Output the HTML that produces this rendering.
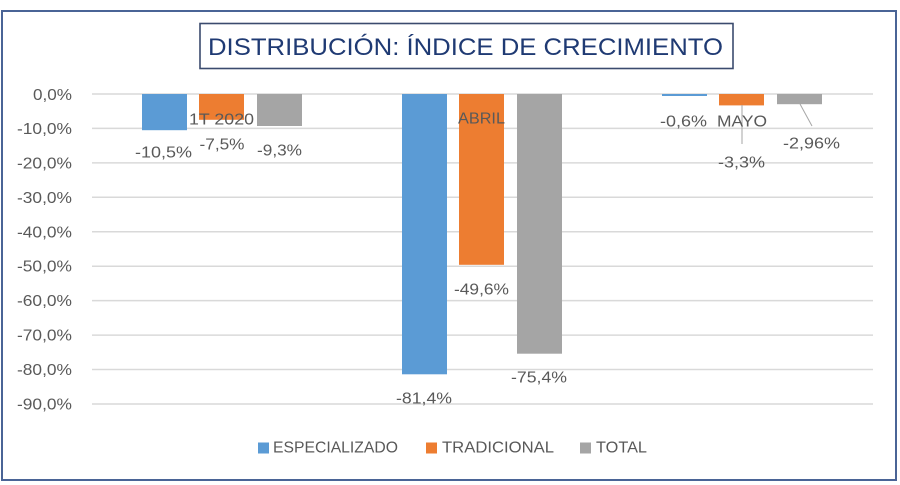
<!DOCTYPE html>
<html>
<head>
<meta charset="utf-8">
<style>
  html, body { margin: 0; padding: 0; background: #ffffff; }
  svg { display: block; }
  text { font-family: "Liberation Sans", "DejaVu Sans", sans-serif; }
</style>
</head>
<body>
<svg width="900" height="485" viewBox="0 0 900 485" xmlns="http://www.w3.org/2000/svg">
  <rect x="0" y="0" width="900" height="485" fill="#ffffff"/>
  <!-- outer border -->
  <rect x="2" y="11" width="894" height="469" fill="none" stroke="#4a6496" stroke-width="2"/>

  <!-- title box -->
  <rect x="200" y="23.5" width="533" height="45" fill="#ffffff" stroke="#3b4b6e" stroke-width="1.6"/>
  <text x="208" y="55" font-size="24" fill="#1f3a73" textLength="515" lengthAdjust="spacingAndGlyphs">DISTRIBUCIÓN: ÍNDICE DE CRECIMIENTO</text>

  <!-- gridlines -->
  <g stroke="#d9d9d9" stroke-width="1.5">
    <line x1="92" y1="94" x2="873" y2="94"/>
    <line x1="92" y1="128.4" x2="873" y2="128.4"/>
    <line x1="92" y1="162.9" x2="873" y2="162.9"/>
    <line x1="92" y1="197.3" x2="873" y2="197.3"/>
    <line x1="92" y1="231.8" x2="873" y2="231.8"/>
    <line x1="92" y1="266.2" x2="873" y2="266.2"/>
    <line x1="92" y1="300.6" x2="873" y2="300.6"/>
    <line x1="92" y1="335.1" x2="873" y2="335.1"/>
    <line x1="92" y1="369.5" x2="873" y2="369.5"/>
    <line x1="92" y1="404" x2="873" y2="404"/>
  </g>

  <!-- y labels -->
  <g font-size="15.5" fill="#595959" text-anchor="end">
    <text x="72" y="100" textLength="39" lengthAdjust="spacingAndGlyphs">0,0%</text>
    <text x="72" y="134" textLength="55" lengthAdjust="spacingAndGlyphs">-10,0%</text>
    <text x="72" y="168.5" textLength="55" lengthAdjust="spacingAndGlyphs">-20,0%</text>
    <text x="72" y="203" textLength="55" lengthAdjust="spacingAndGlyphs">-30,0%</text>
    <text x="72" y="237.3" textLength="55" lengthAdjust="spacingAndGlyphs">-40,0%</text>
    <text x="72" y="271.7" textLength="55" lengthAdjust="spacingAndGlyphs">-50,0%</text>
    <text x="72" y="306.2" textLength="55" lengthAdjust="spacingAndGlyphs">-60,0%</text>
    <text x="72" y="340.6" textLength="55" lengthAdjust="spacingAndGlyphs">-70,0%</text>
    <text x="72" y="375" textLength="55" lengthAdjust="spacingAndGlyphs">-80,0%</text>
    <text x="72" y="409.5" textLength="55" lengthAdjust="spacingAndGlyphs">-90,0%</text>
  </g>

  <!-- bars group 1 -->
  <rect x="142" y="94" width="45" height="36.2" fill="#5b9bd5"/>
  <rect x="199" y="94" width="45" height="25.8" fill="#ed7d31"/>
  <rect x="257" y="94" width="45" height="32" fill="#a5a5a5"/>
  <!-- group 2 -->
  <rect x="402" y="94" width="45" height="280.3" fill="#5b9bd5"/>
  <rect x="459" y="94" width="45" height="170.8" fill="#ed7d31"/>
  <rect x="517" y="94" width="45" height="259.7" fill="#a5a5a5"/>
  <!-- group 3 -->
  <rect x="662" y="94" width="45" height="2" fill="#5b9bd5"/>
  <rect x="719" y="94" width="45" height="11.4" fill="#ed7d31"/>
  <rect x="777" y="94" width="45" height="10.2" fill="#a5a5a5"/>

  <!-- leader lines -->
  <g stroke="#a6a6a6" stroke-width="1">
    <line x1="742" y1="105" x2="742" y2="144"/>
    <line x1="800" y1="104" x2="812" y2="126"/>
  </g>

  <!-- category labels -->
  <g font-size="16" fill="#595959" text-anchor="middle">
    <text x="221.5" y="124.5" textLength="65" lengthAdjust="spacingAndGlyphs">1T 2020</text>
    <text x="481.5" y="123.5" textLength="47" lengthAdjust="spacingAndGlyphs">ABRIL</text>
    <text x="742" y="126.5" textLength="50" lengthAdjust="spacingAndGlyphs">MAYO</text>
  </g>

  <!-- data labels -->
  <g font-size="16" fill="#595959" text-anchor="middle">
    <text x="163.5" y="157.5" textLength="57" lengthAdjust="spacingAndGlyphs">-10,5%</text>
    <text x="222" y="149.5" textLength="45" lengthAdjust="spacingAndGlyphs">-7,5%</text>
    <text x="279.5" y="155.5" textLength="45" lengthAdjust="spacingAndGlyphs">-9,3%</text>
    <text x="424" y="403.5" textLength="56" lengthAdjust="spacingAndGlyphs">-81,4%</text>
    <text x="481.5" y="294.5" textLength="55" lengthAdjust="spacingAndGlyphs">-49,6%</text>
    <text x="539" y="382.5" textLength="56" lengthAdjust="spacingAndGlyphs">-75,4%</text>
    <text x="683.5" y="126.5" textLength="47" lengthAdjust="spacingAndGlyphs">-0,6%</text>
    <text x="741.5" y="167.5" textLength="47" lengthAdjust="spacingAndGlyphs">-3,3%</text>
    <text x="811.5" y="148.5" textLength="57" lengthAdjust="spacingAndGlyphs">-2,96%</text>
  </g>

  <!-- legend -->
  <rect x="258" y="442.5" width="11" height="11" fill="#5b9bd5"/>
  <rect x="426" y="442.5" width="11" height="11" fill="#ed7d31"/>
  <rect x="580" y="442.5" width="11" height="11" fill="#a5a5a5"/>
  <g font-size="16" fill="#595959">
    <text x="273" y="452.5" textLength="125" lengthAdjust="spacingAndGlyphs">ESPECIALIZADO</text>
    <text x="442" y="452.5" textLength="112" lengthAdjust="spacingAndGlyphs">TRADICIONAL</text>
    <text x="596" y="452.5" textLength="51" lengthAdjust="spacingAndGlyphs">TOTAL</text>
  </g>
</svg>
</body>
</html>
